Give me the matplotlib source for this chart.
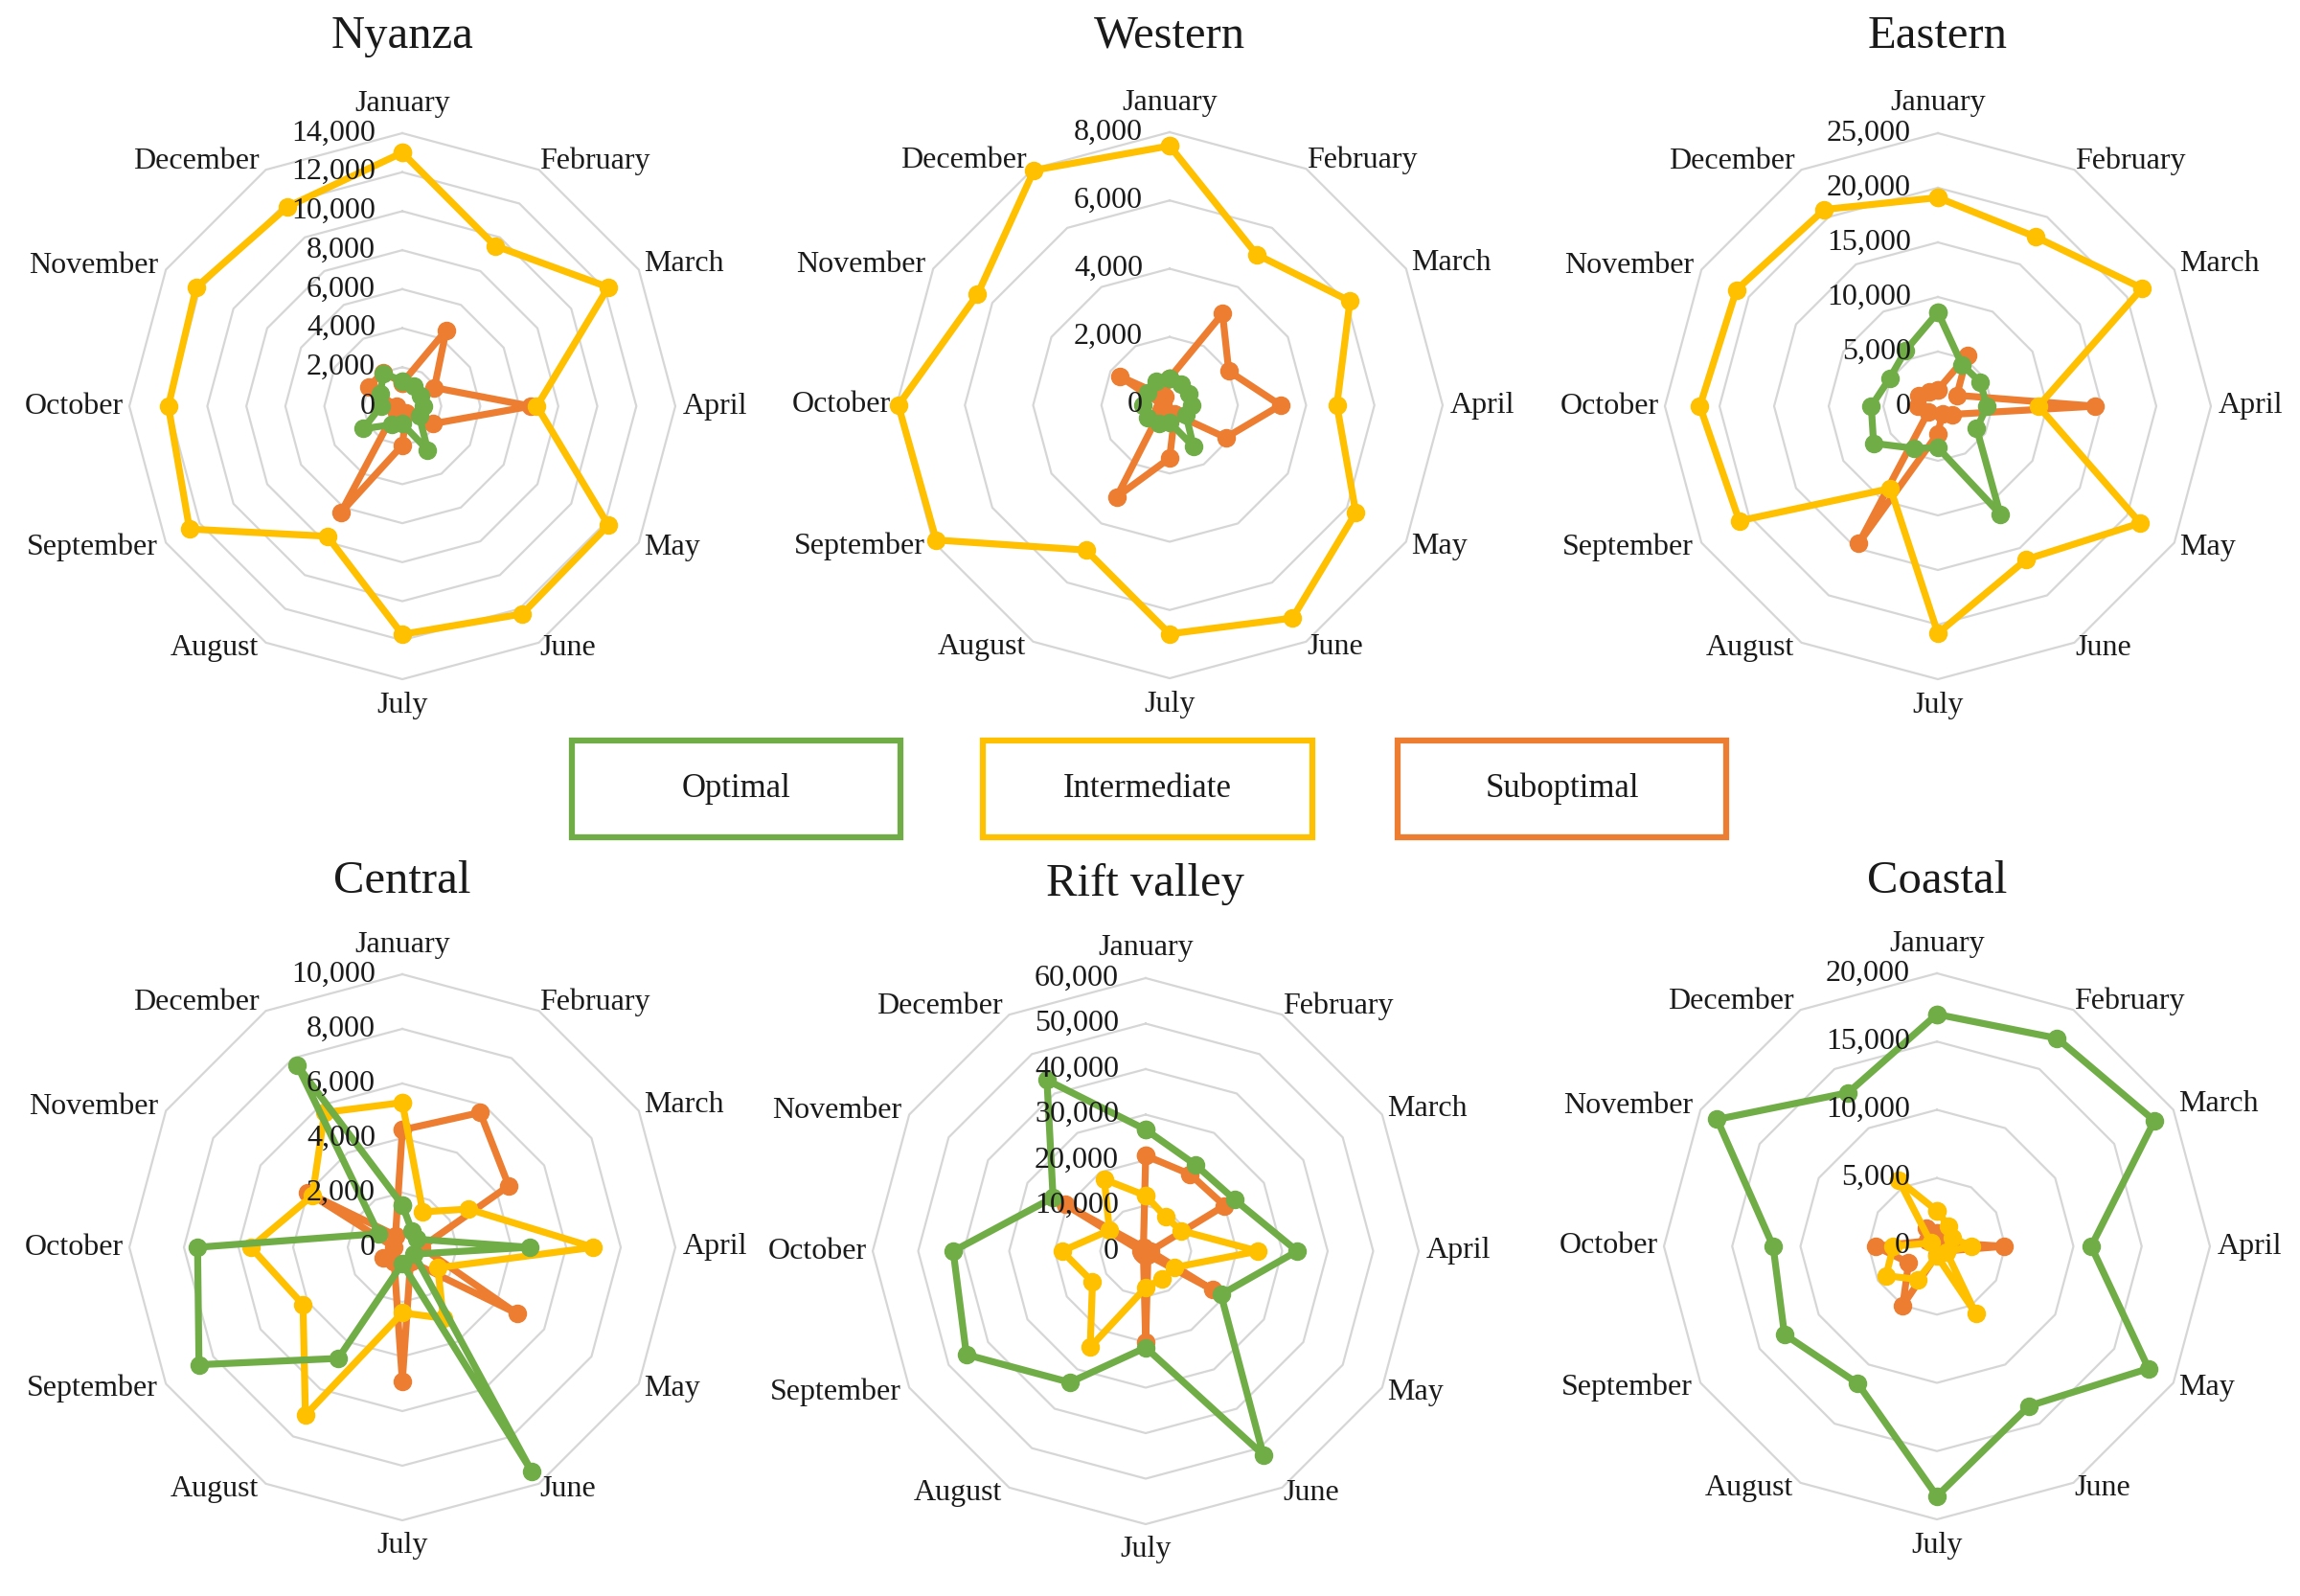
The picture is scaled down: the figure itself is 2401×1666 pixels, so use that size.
import matplotlib
matplotlib.use("Agg")
import matplotlib.pyplot as plt
import numpy as np
from matplotlib.patches import Rectangle

# ---------------- data ----------------
months = ["January", "February", "March", "April", "May", "June",
          "July", "August", "September", "October", "November", "December"]
regions = ["Nyanza", "Western", "Eastern", "Central", "Rift valley", "Coastal"]
series_names = ["Optimal", "Intermediate", "Suboptimal"]

nyanza_optimal = [1300, 1200, 1100, 1100, 1000, 2600, 900, 1100, 2300, 1100, 1300, 1950]
nyanza_intermediate = [13000, 9500, 12200, 6900, 12200, 12300, 11700, 7700, 12600, 12000, 12200, 11800]
nyanza_suboptimal = [1200, 4500, 1900, 6600, 1800, 400, 2000, 6300, 400, 300, 2000, 2000]

western_optimal = [800, 700, 650, 650, 550, 1400, 500, 600, 750, 800, 750, 800]
western_intermediate = [7600, 5100, 6100, 4900, 6300, 7200, 6700, 4900, 7900, 7950, 6500, 7950]
western_suboptimal = [800, 3100, 2000, 3250, 1900, 300, 1550, 3100, 300, 200, 1700, 300]

eastern_optimal = [8600, 4400, 4450, 4500, 4100, 11400, 3800, 4450, 6800, 6100, 5100, 5900]
eastern_intermediate = [19100, 17900, 21600, 9200, 21400, 16200, 20800, 8700, 21000, 21800, 21300, 20800]
eastern_suboptimal = [1500, 5400, 2000, 14400, 1500, 800, 2500, 14500, 1000, 1800, 2000, 1500]

central_optimal = [1550, 700, 600, 4650, 500, 9500, 600, 4700, 8600, 7500, 1000, 7700]
central_intermediate = [5300, 1500, 2800, 7000, 1500, 3000, 2400, 7100, 4200, 5550, 3800, 5700]
central_suboptimal = [4300, 5700, 4500, 700, 4850, 600, 4900, 600, 800, 300, 4000, 500]

rift_optimal = [26700, 21900, 22600, 33300, 19100, 51700, 21200, 33300, 45500, 42300, 23500, 43400]
rift_intermediate = [12200, 8700, 9000, 24700, 7200, 7100, 8000, 24400, 13500, 18400, 9200, 18200]
rift_suboptimal = [21000, 19500, 20000, 1000, 17000, 1000, 20000, 1000, 1000, 1000, 20500, 1000]

coastal_optimal = [17000, 17600, 18400, 11300, 17900, 13500, 18300, 11600, 12900, 12000, 18600, 13000]
coastal_intermediate = [2600, 1700, 1300, 2500, 800, 5700, 700, 2800, 4300, 3200, 500, 5600]
coastal_suboptimal = [1000, 600, 600, 4900, 700, 500, 600, 5000, 2400, 4500, 800, 1500]

nyanza_ticks = [0, 2000, 4000, 6000, 8000, 10000, 12000, 14000]
western_ticks = [0, 2000, 4000, 6000, 8000]
eastern_ticks = [0, 5000, 10000, 15000, 20000, 25000]
central_ticks = [0, 2000, 4000, 6000, 8000, 10000]
rift_ticks = [0, 10000, 20000, 30000, 40000, 50000, 60000]
coastal_ticks = [0, 5000, 10000, 15000, 20000]

panel_data = {
    "Nyanza": (nyanza_optimal, nyanza_intermediate, nyanza_suboptimal, nyanza_ticks),
    "Western": (western_optimal, western_intermediate, western_suboptimal, western_ticks),
    "Eastern": (eastern_optimal, eastern_intermediate, eastern_suboptimal, eastern_ticks),
    "Central": (central_optimal, central_intermediate, central_suboptimal, central_ticks),
    "Rift valley": (rift_optimal, rift_intermediate, rift_suboptimal, rift_ticks),
    "Coastal": (coastal_optimal, coastal_intermediate, coastal_suboptimal, coastal_ticks),
}

# ---------------- style / layout ----------------
W, H = 2401, 1666
fig = plt.figure(figsize=(W / 100, H / 100), dpi=100)
fig.patch.set_facecolor("white")

FONT = ["Liberation Serif", "DejaVu Serif"]
TXT = "#1a1a1a"
colors = {"Optimal": "#70AD47", "Intermediate": "#FFC000", "Suboptimal": "#ED7D31"}
draw_order = ["Suboptimal", "Intermediate", "Optimal"]

centers = [(420, 424), (1221, 423), (2023, 424), (420, 1302), (1196, 1306), (2022, 1301)]
title_y = [38, 38, 38, 920, 923, 920]
R = 285

angles = np.arange(12) * 2 * np.pi / 12
th_closed = np.append(angles, angles[0])

# month-label offsets (pixels) and alignment
lab_off = [(0, 31), (1, 9), (5, 6), (8, 0), (5, -5), (1, -6),
           (0, -27), (-7, -6), (-8, -5), (-6, 0), (-8, 4), (-7, 9)]
lab_ha = ["center", "left", "left", "left", "left", "left",
          "center", "right", "right", "right", "right", "right"]

for (cx, cy), ty, region in zip(centers, title_y, regions):
    opt, inter, sub, ticks = panel_data[region]
    rmax = ticks[-1]
    ax = fig.add_axes([(cx - R) / W, 1 - (cy + R) / H, 2 * R / W, 2 * R / H],
                      projection="polar")
    ax.set_theta_zero_location("N")
    ax.set_theta_direction(-1)
    ax.set_ylim(0, rmax)
    ax.grid(False)
    ax.spines["polar"].set_visible(False)
    ax.set_xticks([])
    ax.set_yticks([])
    ax.patch.set_alpha(0)

    # dodecagon gridlines
    for t in ticks[1:]:
        ax.plot(th_closed, [t] * 13, color="#d6d6d6", lw=1.6, zorder=1, clip_on=False)

    vals = {"Optimal": opt, "Intermediate": inter, "Suboptimal": sub}
    for z, name in enumerate(draw_order):
        v = list(vals[name])
        ax.plot(th_closed, v + [v[0]], color=colors[name], lw=5.2, marker="o",
                ms=13, zorder=3 + z, clip_on=False, solid_joinstyle="round")

    # radial tick labels
    for t in ticks:
        ax.annotate(f"{t:,}", xy=(0, t), xytext=(-28, 0), textcoords="offset pixels",
                    ha="right", va="center", fontsize=23, family=FONT, color=TXT,
                    annotation_clip=False, zorder=10)

    # month labels
    for i, m in enumerate(months):
        ax.annotate(m, xy=(angles[i], rmax), xytext=lab_off[i], textcoords="offset pixels",
                    ha=lab_ha[i], va="center", fontsize=23, family=FONT, color=TXT,
                    annotation_clip=False)

    fig.text(cx / W, 1 - ty / H, region, ha="center", va="center",
             fontsize=35, family=FONT, color=TXT)

# ---------------- legend boxes ----------------
legend_boxes = [(597, 940), (1026, 1370), (1459, 1802)]
box_top, box_bot = 773, 874
for (x0, x1), name in zip(legend_boxes, series_names):
    fig.add_artist(Rectangle((x0 / W, 1 - box_bot / H), (x1 - x0) / W, (box_bot - box_top) / H,
                             transform=fig.transFigure, fill=False,
                             edgecolor=colors[name], lw=4.5))
    fig.text((x0 + x1) / 2 / W, 1 - (box_top + box_bot) / 2 / H, name,
             ha="center", va="center", fontsize=25, family=FONT, color=TXT)

fig.savefig("out.png", dpi=100, facecolor="white")
